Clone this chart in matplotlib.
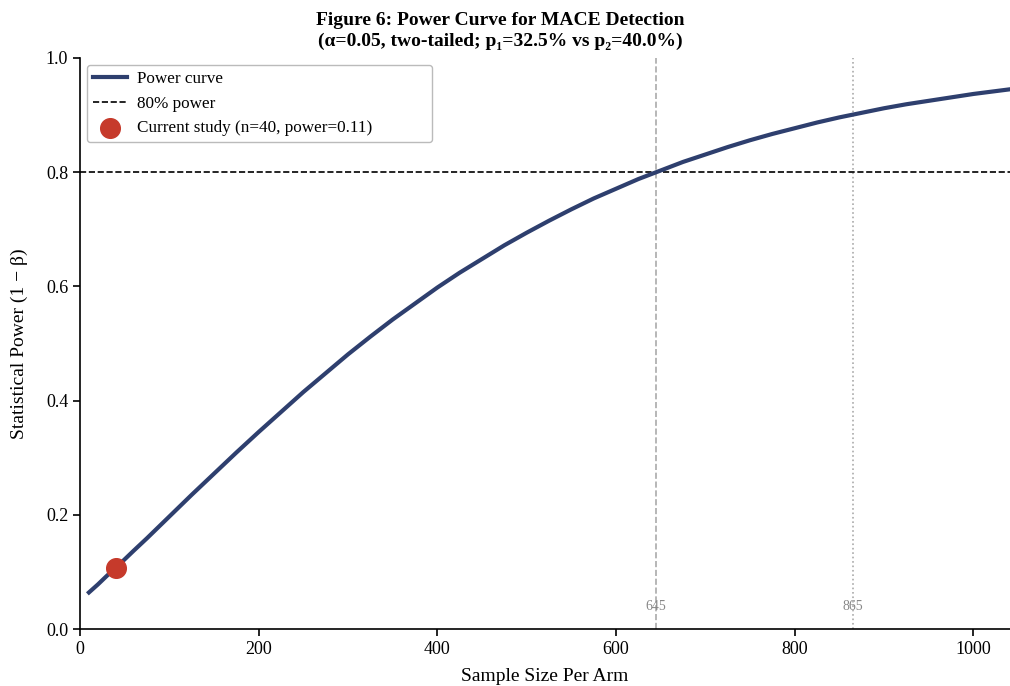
import matplotlib
matplotlib.use("Agg")
import matplotlib.pyplot as plt

plt.rcParams["font.family"] = ["Liberation Serif", "DejaVu Serif"]

# power curve (sample size per arm -> power)
sample_sizes = [10, 20, 30, 40, 50, 60, 75, 100, 125, 150, 175, 200, 225, 250, 275, 300,
                325, 350, 375, 400, 425, 450, 475, 500, 525, 550, 575, 600, 625, 650,
                675, 700, 725, 750, 775, 800, 825, 850, 875, 900, 925, 950, 975, 1000,
                1020, 1040]
power_values = [0.064, 0.078, 0.093, 0.107, 0.122, 0.137, 0.159, 0.197, 0.235, 0.272,
                0.309, 0.345, 0.380, 0.415, 0.448, 0.481, 0.512, 0.542, 0.570, 0.598,
                0.624, 0.648, 0.672, 0.694, 0.715, 0.735, 0.754, 0.771, 0.788, 0.803,
                0.818, 0.831, 0.844, 0.856, 0.867, 0.877, 0.887, 0.896, 0.904, 0.912,
                0.919, 0.925, 0.931, 0.937, 0.941, 0.945]

current_n = 40
current_power = 0.107
target_power = 0.8
n_80 = 645
n_90 = 865

x_ticks = [0, 200, 400, 600, 800, 1000]
y_ticks = [0.0, 0.2, 0.4, 0.6, 0.8, 1.0]

fig = plt.figure(figsize=(10.1, 6.86), dpi=100)
ax = fig.add_axes([80 / 1010, 1 - 629 / 686, 1 - 80 / 1010, (629 - 58) / 686])

ax.plot(sample_sizes, power_values, color="#2e3f6e", linewidth=3, label="Power curve", zorder=3)
ax.axhline(target_power, color="black", linestyle="--", linewidth=1.2, label="80% power", zorder=2)
ax.axvline(n_80, color="#aaaaaa", linestyle="--", linewidth=1.2, zorder=1)
ax.axvline(n_90, color="#aaaaaa", linestyle=":", linewidth=1.2, zorder=1)
ax.text(n_80, 0.04, str(n_80), color="#888888", fontsize=10, ha="center", va="center")
ax.text(n_90, 0.04, str(n_90), color="#888888", fontsize=10, ha="center", va="center")
ax.scatter([current_n], [current_power], s=200, color="#c63a2b", zorder=4,
           label=f"Current study (n={current_n}, power={current_power:.2f})")

ax.set_xlim(0, 1041)
ax.set_ylim(0, 1.0)
ax.set_xticks(x_ticks)
ax.set_yticks(y_ticks)
ax.set_yticklabels([f"{v:.1f}" for v in y_ticks])
ax.tick_params(labelsize=13, length=5, width=1.2)
ax.spines["top"].set_visible(False)
ax.spines["right"].set_visible(False)
ax.spines["left"].set_linewidth(1.2)
ax.spines["bottom"].set_linewidth(1.2)

ax.set_xlabel("Sample Size Per Arm", fontsize=14)
ax.set_ylabel("Statistical Power (1 − β)", fontsize=14)
ax.yaxis.set_label_coords(-0.056, 0.5)
ax.xaxis.set_label_coords(0.5, -0.068)

fig.suptitle("Figure 6: Power Curve for MACE Detection\n(α=0.05, two-tailed; p₁=32.5% vs p₂=40.0%)",
             x=0.495, y=0.982, fontsize=14, fontweight="bold", linespacing=1.25)

# legend box is wider than its text in the original
leg = ax.legend(loc="upper left", bbox_to_anchor=(0.0075, 0.9877, 0.371, 0.0),
                mode="expand", borderaxespad=0, fontsize=12.3, frameon=True, fancybox=True,
                edgecolor="#aaaaaa", borderpad=0.35, handlelength=2.0, handletextpad=0.6)

fig.savefig("out.png", dpi=100)
